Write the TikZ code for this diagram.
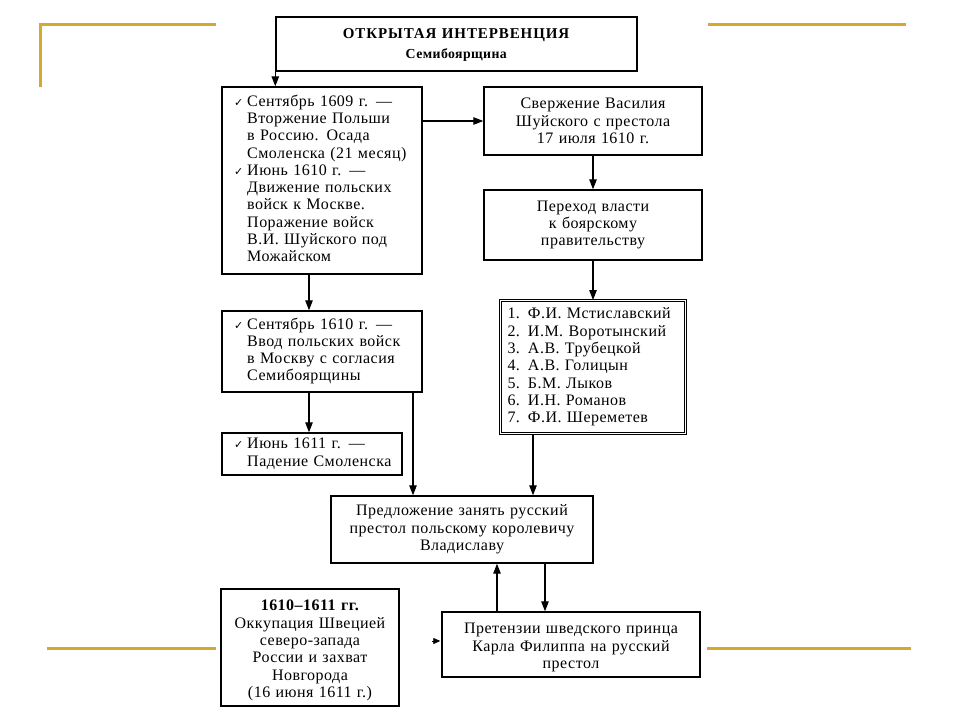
\documentclass[tikz,border=0pt]{standalone}
\usepackage{fontspec}
\setmainfont{Liberation Serif}
\newfontfamily\bodyf{Liberation Serif}[LetterSpace=3]
\newfontfamily\titlef{Liberation Serif}[LetterSpace=6]
\newfontfamily\symf{DejaVu Sans}
\usetikzlibrary{arrows.meta,calc}
\definecolor{goldc}{RGB}{214,168,48}
\newcommand{\ck}{{\symf\fontsize{11}{11}\selectfont ✓}}
\begin{document}
\begin{tikzpicture}[x=1pt,y=-1pt,
  box/.style={draw,line width=1.4pt,inner ysep=0pt,minimum height=#1,
    font=\bodyf\fontsize{16}{17.3}\selectfont},
  arr/.style={line width=1.1pt,-{Triangle[length=10pt,width=7.5pt]}},
  goldline/.style={line width=3pt,color=goldc}]
\useasboundingbox (0,0) rectangle (960,720);
% gold decoration
\draw[goldline] (216,24) -- (40,24) -- (40,87);
\draw[goldline] (708,24) -- (906,24);
\draw[goldline] (47,648) -- (216,648);
\draw[goldline] (707,648) -- (911,648);
% nodes
\node[box=54pt,inner xsep=0pt,text width=361pt,align=center] (title) at (456.5,44)
  {\parbox{361pt}{\vspace*{2pt}\centering
   {\titlef\fontsize{15}{15}\selectfont\textbf{ОТКРЫТАЯ ИНТЕРВЕНЦИЯ}}\\[3pt]
   {\fontsize{13.8}{15}\selectfont\textbf{Семибоярщина}}}};
\node[box=187pt,inner xsep=12pt,text width=176pt,align=left] (b1) at (322,180.5)
  {\begin{tabular}{@{}l@{\hspace{4pt}}l@{}}
  \ck & Сентябрь 1609 г. —\\
      & Вторжение Польши\\
      & в Россию. Осада\\
      & Смоленска (21 месяц)\\
  \ck & Июнь 1610 г. —\\
      & Движение польских\\
      & войск к Москве.\\
      & Поражение войск\\
      & В.И. Шуйского под\\
      & Можайском
  \end{tabular}};
\node[box=68pt,inner xsep=0pt,text width=218pt,align=center] (b2) at (593,121)
  {Свержение Василия\\Шуйского с престола\\17 июля 1610 г.};
\node[box=70pt,inner xsep=0pt,text width=218pt,align=center] (b3) at (593,225)
  {Переход власти\\к боярскому\\правительству};
\node[box=133pt,double,double distance=1.8pt,line width=1pt,inner xsep=7pt,
      text width=171pt,align=left] (b4) at (593,367)
  {1. Ф.И. Мстиславский\\2. И.М. Воротынский\\3. А.В. Трубецкой\\4. А.В. Голицын\\
   5. Б.М. Лыков\\6. И.Н. Романов\\7. Ф.И. Шереметев};
\node[box=81pt,inner xsep=12pt,text width=176pt,align=left] (b5) at (322,351.5)
  {\begin{tabular}{@{}l@{\hspace{4pt}}l@{}}
  \ck & Сентябрь 1610 г. —\\
      & Ввод польских войск\\
      & в Москву с согласия\\
      & Семибоярщины
  \end{tabular}};
\node[box=42pt,inner xsep=12pt,text width=156pt,align=left] (b6) at (312,454)
  {\begin{tabular}{@{}l@{\hspace{4pt}}l@{}}
  \ck & Июнь 1611 г. —\\
      & Падение Смоленска
  \end{tabular}};
\node[box=67pt,inner xsep=0pt,text width=262pt,align=center] (b7) at (462,529.5)
  {Предложение занять русский\\престол польскому королевичу\\Владиславу};
\node[box=65pt,inner xsep=0pt,text width=258pt,align=center] (b8) at (571,644.5)
  {\parbox{258pt}{\vspace*{6pt}\centering Претензии шведского принца\\Карла Филиппа на русский\\престол}};
\node[box=117pt,inner xsep=0pt,text width=178pt,align=center] (b9) at (310,647.5)
  {\parbox{178pt}{\vspace*{6pt}\centering\textbf{1610–1611 гг.}\\Оккупация Швецией\\северо-запада\\России и захват\\Новгорода\\(16 июня 1611 г.)}};
% connectors
\draw[arr] (title.south west) -- (title.south west |- b1.north);
\draw[arr] (b2.west -| b1.east) -- (b2.west);
\draw[arr] (b2.south) -- (b3.north);
\draw[arr] (b3.south) -- (b4.north);
\draw[arr] ([xshift=-60pt]b4.south) -- ([xshift=-60pt]b4.south |- b7.north);
\draw[arr] ([xshift=-13pt]b1.south) -- ([xshift=-13pt]b1.south |- b5.north);
\draw[arr] ([xshift=-13pt]b5.south) -- ([xshift=-13pt]b5.south |- b6.north);
\draw[arr] ([xshift=91pt]b5.south) -- ([xshift=91pt]b5.south |- b7.north);
\draw[arr] ([xshift=83pt]b7.south) -- ([xshift=83pt]b7.south |- b8.north);
\draw[arr] ([xshift=-74pt]b8.north) -- ([xshift=-74pt]b8.north |- b7.south);
\draw[line width=0.8pt,-{Triangle[length=7pt,width=6pt]}] ([xshift=-9pt,yshift=3.5pt]b8.west) -- ([xshift=-1pt,yshift=3.5pt]b8.west);
\end{tikzpicture}
\end{document}
